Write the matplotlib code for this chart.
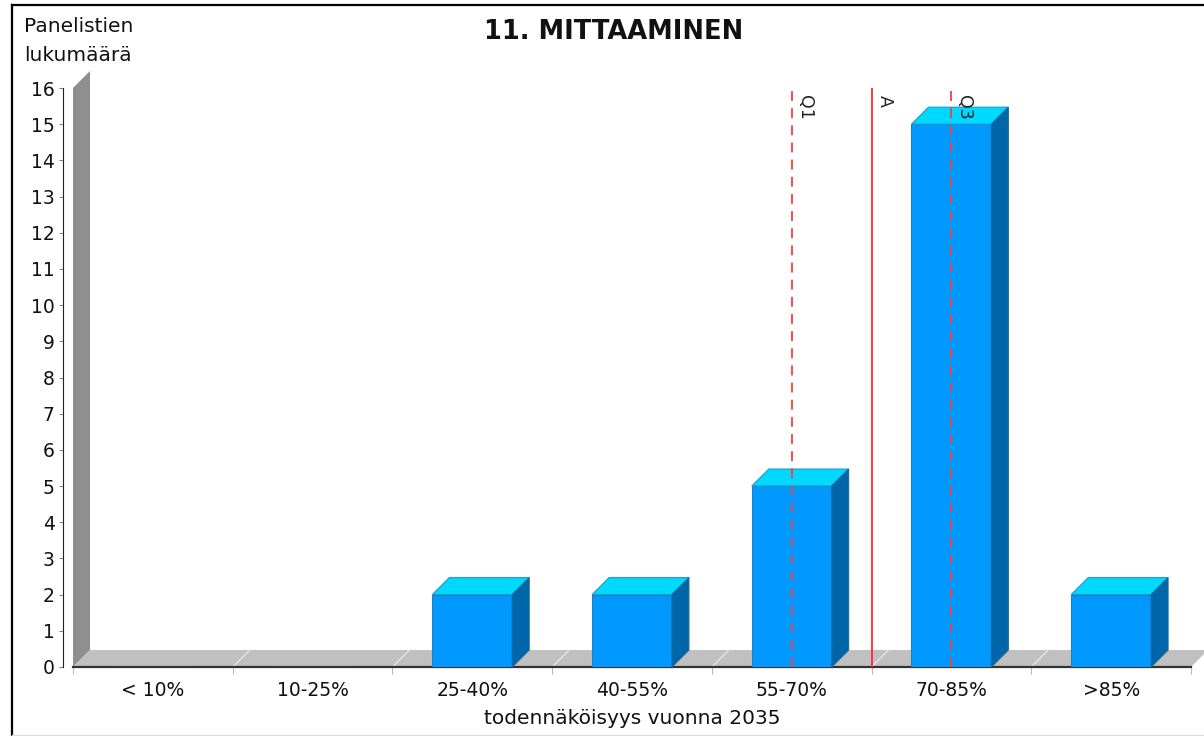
import matplotlib.pyplot as plt
import matplotlib.transforms as mtransforms
from matplotlib.patches import Polygon
from matplotlib.lines import Line2D
import numpy as np

# data
categories = ['< 10%', '10-25%', '25-40%', '40-55%', '55-70%', '70-85%', '>85%']
counts = [0, 0, 2, 2, 5, 15, 2]
q1_pos = 4.0    # Q1 -> keskellä 55-70%
avg_pos = 4.5   # A  -> 55-70% / 70-85% raja
q3_pos = 5.0    # Q3 -> keskellä 70-85%
title = '11. MITTAAMINEN'
xlab = 'todennäköisyys vuonna 2035'
ylab = 'Panelistien\nlukumäärä'

W, H = 1204, 736
fig = plt.figure(figsize=(W / 100, H / 100), dpi=100)
plt.rcParams['font.family'] = ['DejaVu Sans']

# plot area in pixels (front plane)
L, R, B, T = 73, 1191, 667, 88
ax = fig.add_axes([L / W, 1 - B / H, (R - L) / W, (B - T) / H])
ymax = 16
ax.set_xlim(-0.5, len(categories) - 0.5)
ax.set_ylim(0, ymax)

# 3D offset (pixels -> data units)
off = 17
dx = off * len(categories) / (R - L)
dy = off * ymax / (B - T)

# wall + floor
ax.add_patch(Polygon([(-0.5, 0), (-0.5, ymax), (-0.5 + dx, ymax + dy), (-0.5 + dx, dy)],
                     closed=True, fc='#8f8f8f', ec='none', clip_on=False, zorder=1))
ax.add_patch(Polygon([(-0.5, 0), (-0.5 + dx, dy), (6.5 + dx, dy), (6.5, 0)],
                     closed=True, fc='#c0c0c0', ec='none', clip_on=False, zorder=1))
for b in np.arange(0.5, 6.5, 1):
    ax.plot([b, b + dx], [0, dy], color='#e6e6e6', lw=1, clip_on=False, zorder=1.5)

# bars
w = 0.5
x = np.arange(len(categories))
ax.bar(x, counts, width=w, color='#0099ff', edgecolor='#1a80c0', lw=0.8, zorder=3)
for xi, v in zip(x, counts):
    if v <= 0:
        continue
    x0, x1 = xi - w / 2, xi + w / 2
    ax.add_patch(Polygon([(x0, v), (x0 + dx, v + dy), (x1 + dx, v + dy), (x1, v)],
                         closed=True, fc='#00d9ff', ec='#1a9ac8', lw=0.8, clip_on=False, zorder=3))
    ax.add_patch(Polygon([(x1, 0), (x1, v), (x1 + dx, v + dy), (x1 + dx, dy)],
                         closed=True, fc='#0066aa', ec='#1a6aa0', lw=0.8, clip_on=False, zorder=3))

# markers Q1 / A / Q3
ax.axvline(q1_pos, color='#ff3b3b', lw=1.3, ls=(0, (5.5, 4)), zorder=4)
ax.axvline(avg_pos, color='#ff2a2a', lw=1.3, zorder=4)
ax.axvline(q3_pos, color='#ff3b3b', lw=1.3, ls=(0, (5.5, 4)), zorder=4)
tr = mtransforms.offset_copy(ax.transData, fig=fig, x=4, y=-7, units='dots')
for pos, lab in [(q1_pos, 'Q1'), (avg_pos, 'A'), (q3_pos, 'Q3')]:
    ax.text(pos, ymax, lab, transform=tr, rotation=270, ha='left', va='top',
            fontsize=12.5, color='#222222', zorder=5)

# axes styling
ax.spines['top'].set_visible(False)
ax.spines['right'].set_visible(False)
ax.spines['left'].set_position(('outward', 7.2))
ax.spines['left'].set_color('#222222')
ax.spines['bottom'].set_color('#333333')
ax.spines['bottom'].set_linewidth(1.6)
ax.spines['bottom'].set_zorder(2)
ax.set_yticks(range(0, ymax + 1))
ax.tick_params(axis='y', length=3, color='#888888', labelsize=13.5, pad=3, labelcolor='#111111')
ax.set_xticks(np.arange(-0.5, len(categories), 1))
ax.set_xticklabels([])
ax.set_xticks(x, minor=True)
ax.set_xticklabels(categories, minor=True)
ax.tick_params(axis='x', which='major', length=5, color='#bbbbbb')
ax.tick_params(axis='x', which='minor', length=0, labelsize=13.5, pad=10, labelcolor='#111111')
ax.set_facecolor('none')

fig.text(614 / W, 1 - 39 / H, title, ha='center', va='baseline', fontsize=18.5,
         fontweight='bold', color='#111111')
fig.text(632 / W, 1 - 724 / H, xlab, ha='center', va='baseline', fontsize=14.5, color='#111111')
fig.text(24 / W, 1 - 17 / H, ylab, ha='left', va='top', fontsize=14.5, linespacing=1.65,
         color='#111111')

# outer border (left/top dark, bottom light)
fig.add_artist(Line2D([12 / W, 12 / W], [0, 1 - 5 / H], transform=fig.transFigure, color='black', lw=1.6))
fig.add_artist(Line2D([12 / W, 1], [1 - 5 / H, 1 - 5 / H], transform=fig.transFigure, color='black', lw=1.6))
fig.add_artist(Line2D([12 / W, 1], [1 / H, 1 / H], transform=fig.transFigure, color='#dddddd', lw=1))

fig.savefig('out.png', dpi=100)
